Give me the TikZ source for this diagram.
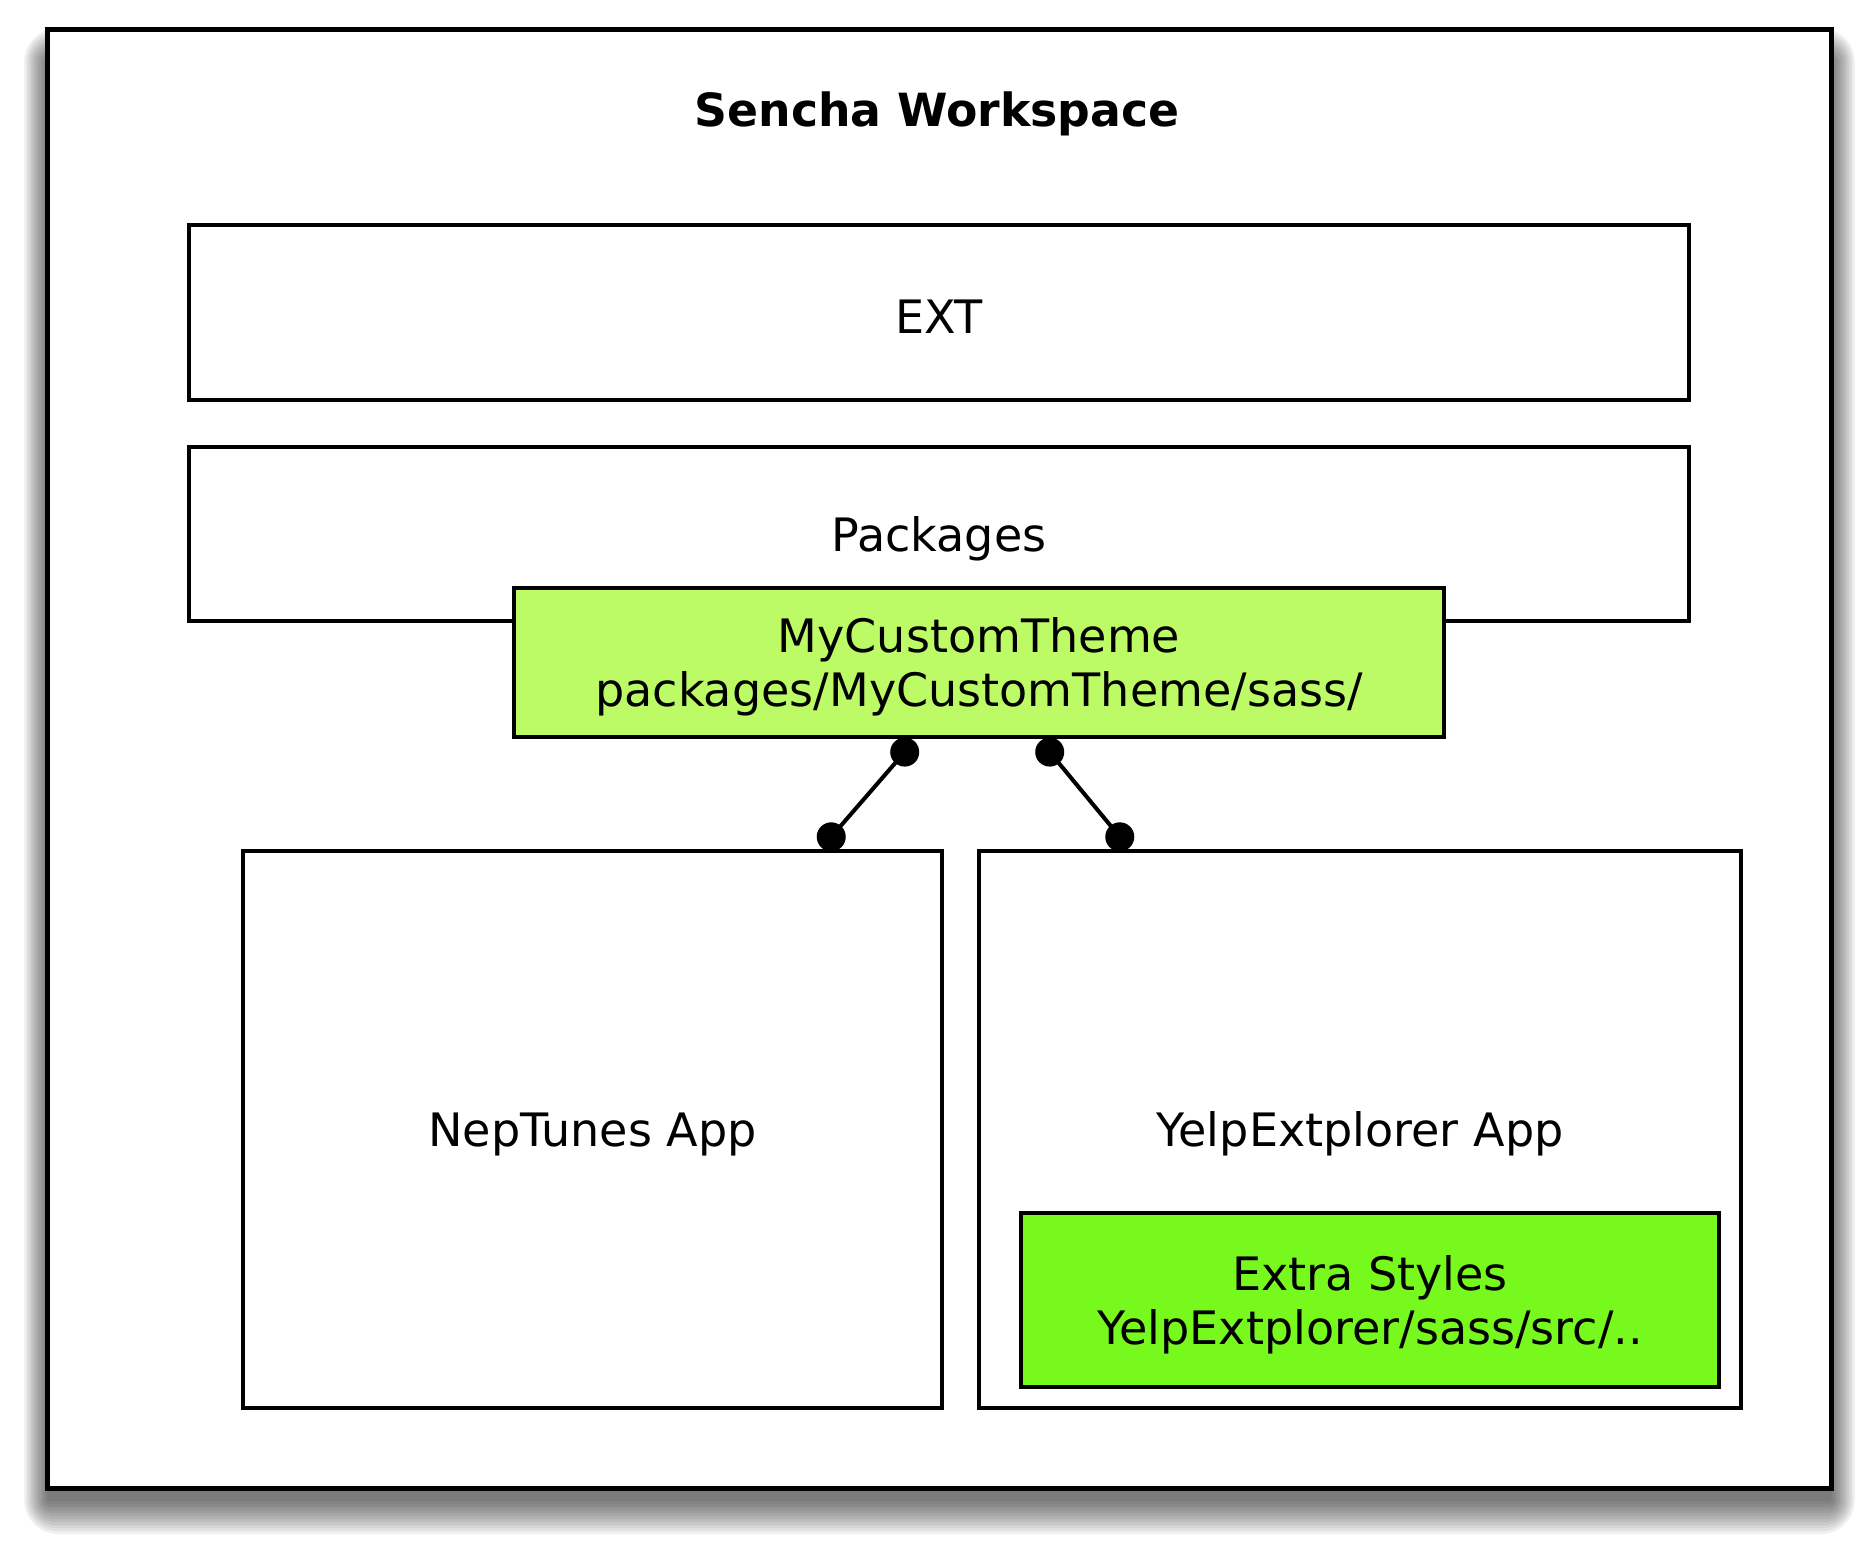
\documentclass[tikz,border=0pt]{standalone}
\usepackage{fontspec}
\setmainfont{DejaVu Sans}
\usetikzlibrary{calc}
\definecolor{themegreen}{RGB}{189,251,102}
\definecolor{extragreen}{RGB}{120,249,30}
\tikzset{
  box/.style={draw=black, line width=1.15pt, fill=white, inner sep=0pt},
  txt/.style={align=center, inner sep=0pt, yshift=-0.045cm, font=\fontsize{13.1}{15.4}\selectfont},
  conn/.style={line width=1.15pt, draw=black},
  dot/.style={fill=black},
}
\begin{document}
\begin{tikzpicture}[x=0.01cm,y=-0.01cm]
\useasboundingbox (0,0) rectangle (1874,1549);
% shadow of the workspace
\foreach \r in {1,4,...,34}{
  \fill[black, opacity=0.06, rounded corners=\r*0.01cm] (48-0.7*\r,62-\r) rectangle (1831+0.7*\r,1500+\r);
}
% outer workspace
\node[draw=black, line width=1.5pt, fill=white, minimum width=17.83cm, minimum height=14.58cm, inner sep=0pt]
  (ws) at (939.5,759) {};
\node[font=\fontsize{13}{15.4}\selectfont\bfseries, yshift=-0.04cm] (title) at (937,110) {Sencha Workspace};
\node[box, minimum width=15cm, minimum height=1.75cm, label={[txt]center:EXT}] (ext) at (939,312.5) {};
\node[box, minimum width=15cm, minimum height=1.74cm, label={[txt]center:Packages}] (pkg) at (939,534) {};
\node[box, fill=themegreen, minimum width=9.30cm, minimum height=1.49cm,
  label={[txt]center:MyCustomTheme\\packages/MyCustomTheme/sass/}] (theme) at (979,662.5) {};
\node[box, minimum width=6.99cm, minimum height=5.57cm, label={[txt]center:NepTunes App}] (nep) at (592.5,1129.5) {};
\node[box, minimum width=7.62cm, minimum height=5.57cm, label={[txt]center:YelpExtplorer App}] (yelp) at (1360,1129.5) {};
\node[box, fill=extragreen, minimum width=6.98cm, minimum height=1.74cm,
  label={[txt]center:Extra Styles\\YelpExtplorer/sass/src/..}] (extra) at (1370,1300) {};
% connectors
\coordinate (a1) at ($(theme.south west)+(393,13)$);
\coordinate (a2) at ($(nep.north east)+(-113,-12)$);
\coordinate (b1) at ($(theme.south west)+(538,13)$);
\coordinate (b2) at ($(yelp.north west)+(143,-12)$);
\draw[conn] (a1) -- (a2);
\draw[conn] (b1) -- (b2);
\fill[dot] (a1) circle (0.145cm);
\fill[dot] (a2) circle (0.145cm);
\fill[dot] (b1) circle (0.145cm);
\fill[dot] (b2) circle (0.145cm);
\end{tikzpicture}
\end{document}
